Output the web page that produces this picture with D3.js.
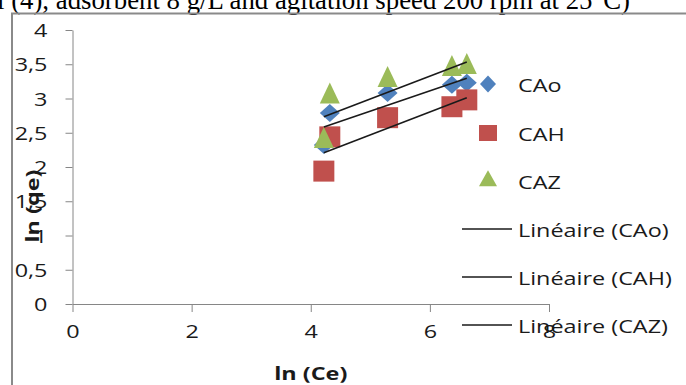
<!DOCTYPE html>
<html>
<head>
<meta charset="utf-8">
<script src="https://cdn.jsdelivr.net/npm/d3@7"></script>
<style>
  html, body { margin: 0; padding: 0; background: #fff; }
  svg { display: block; }
</style>
</head>
<body>
<svg id="chart" width="686" height="385"></svg>
<script>
// Freundlich plot: ln(qe) against ln(Ce) for three activated carbons
const lnCe = [4.22, 4.32, 5.29, 6.37, 6.62];
const lnQeCAo = [2.32, 2.79, 3.08, 3.20, 3.23];
const lnQeCAH = [1.94, 2.44, 2.72, 2.88, 2.98];
const lnQeCAZ = [2.38, 3.03, 3.27, 3.43, 3.46];
const seriesNames = ["CAo", "CAH", "CAZ"];
const trendNames = ["Linéaire (CAo)", "Linéaire (CAH)", "Linéaire (CAZ)"];
const xTicks = [0, 2, 4, 6, 8];
const yTicks = [0, 0.5, 1, 1.5, 2, 2.5, 3, 3.5, 4];
const xTitle = "ln (Ce)";
const yTitle = "ln (qe)";
const captionText = "l (4), adsorbent 8 g/L and agitation speed 200 rpm at 25°C)";

const colors = { CAo: "#4F81BD", CAH: "#C0504D", CAZ: "#9BBB59" };
const seriesValues = { CAo: lnQeCAo, CAH: lnQeCAH, CAZ: lnQeCAZ };

const FONT = "'Open Sans', 'Noto Sans', sans-serif";
const SX = 1.3;          // horizontal stretch of the chart lettering
const AXIS = "#868686";
const INK = "#1a1a1a";

const svg = d3.select("#chart");

// caption line of the surrounding document, clipped at the top edge
svg.append("text")
  .attr("x", -3).attr("y", 9)
  .attr("font-family", "'Liberation Serif', 'Times New Roman', serif")
  .attr("font-size", 26.5)
  .attr("textLength", 633).attr("lengthAdjust", "spacingAndGlyphs")
  .attr("fill", "#000")
  .text(captionText);

// chart frame
svg.append("path")
  .attr("d", "M12,390 V13.5 H690")
  .attr("fill", "none").attr("stroke", "#8a8a8a").attr("stroke-width", 2);

const x = d3.scaleLinear().domain([0, 8]).range([72.5, 549]);
const y = d3.scaleLinear().domain([0, 4]).range([304, 30]);

const fmt = d => String(d).replace(".", ",");

// y axis
const gy = svg.append("g").attr("transform", `translate(${x(0)},0)`)
  .call(d3.axisLeft(y).tickValues(yTicks).tickSize(7).tickSizeOuter(0).tickFormat(fmt));
gy.select(".domain").attr("stroke", AXIS);
gy.selectAll(".tick line").attr("stroke", AXIS);
gy.selectAll(".tick text")
  .attr("x", null).attr("dy", null)
  .attr("transform", `translate(-25,6.5) scale(${SX},1)`)
  .attr("text-anchor", "end")
  .attr("font-family", FONT).attr("font-size", 18).attr("fill", INK);

// x axis
const gx = svg.append("g").attr("transform", `translate(0,${y(0)})`)
  .call(d3.axisBottom(x).tickValues(xTicks).tickSize(8).tickSizeOuter(0).tickFormat(fmt));
gx.select(".domain").attr("stroke", AXIS);
gx.selectAll(".tick line").attr("stroke", AXIS);
gx.selectAll(".tick text")
  .attr("y", null).attr("dy", null)
  .attr("transform", `translate(0,34) scale(${SX},1)`)
  .attr("text-anchor", "middle")
  .attr("font-family", FONT).attr("font-size", 18).attr("fill", INK);

// axis titles
svg.append("text")
  .attr("transform", `translate(${(x(0) + x(8)) / 2},380) scale(${SX},1)`)
  .attr("text-anchor", "middle")
  .attr("font-family", FONT).attr("font-size", 18).attr("font-weight", "bold")
  .attr("fill", INK).text(xTitle);
svg.append("text")
  .attr("transform", `translate(39,206) rotate(-90) scale(${SX},1)`)
  .attr("text-anchor", "middle")
  .attr("font-family", FONT).attr("font-size", 18).attr("font-weight", "bold")
  .attr("fill", INK).text(yTitle);

// marker shapes, centred on (0,0)
function markerPath(name, w, h) {
  if (name === "CAo") return `M0,${-h / 2}L${w / 2},0L0,${h / 2}L${-w / 2},0Z`;
  if (name === "CAH") return `M${-w / 2},${-h / 2}H${w / 2}V${h / 2}H${-w / 2}Z`;
  // triangle: centroid on the point
  return `M0,${-h * 2 / 3}L${w / 2},${h / 3}L${-w / 2},${h / 3}Z`;
}
const plotSize = { CAo: [20, 18], CAH: [21, 21], CAZ: [20, 21] };
const legendSize = { CAo: [16, 17], CAH: [18, 16], CAZ: [18, 16] };

// scatter series
seriesNames.forEach(name => {
  const pts = lnCe.map((c, i) => [c, seriesValues[name][i]]);
  svg.append("g").selectAll("path").data(pts).join("path")
    .attr("transform", d => `translate(${x(d[0])},${y(d[1])})`)
    .attr("d", markerPath(name, ...plotSize[name]))
    .attr("fill", colors[name]);
});

// least-squares trend lines over each series' range
seriesNames.forEach(name => {
  const ys = seriesValues[name];
  const mx = d3.mean(lnCe), my = d3.mean(ys);
  const sxy = d3.sum(lnCe, (c, i) => (c - mx) * (ys[i] - my));
  const sxx = d3.sum(lnCe, c => (c - mx) * (c - mx));
  const slope = sxy / sxx, icpt = my - slope * mx;
  const [x0, x1] = d3.extent(lnCe);
  svg.append("line")
    .attr("x1", x(x0)).attr("y1", y(icpt + slope * x0))
    .attr("x2", x(x1)).attr("y2", y(icpt + slope * x1))
    .attr("stroke", "#1a1a1a").attr("stroke-width", 1.6);
});

// legend
const legendRows = [92, 141, 189, 237, 285, 333];
seriesNames.forEach((name, i) => {
  svg.append("path")
    .attr("transform", `translate(488,${legendRows[i] - 8})`)
    .attr("d", markerPath(name, ...legendSize[name]))
    .attr("fill", colors[name]);
  svg.append("text")
    .attr("transform", `translate(518,${legendRows[i]}) scale(${SX},1)`)
    .attr("font-family", FONT).attr("font-size", 18).attr("fill", INK)
    .text(name);
});
trendNames.forEach((t, i) => {
  const row = legendRows[3 + i];
  svg.append("line")
    .attr("x1", 462).attr("x2", 512).attr("y1", row - 8).attr("y2", row - 8)
    .attr("stroke", "#1a1a1a").attr("stroke-width", 1.3);
  svg.append("text")
    .attr("transform", `translate(518,${row}) scale(${SX},1)`)
    .attr("font-family", FONT).attr("font-size", 18).attr("fill", INK)
    .text(t);
});
</script>
</body>
</html>
